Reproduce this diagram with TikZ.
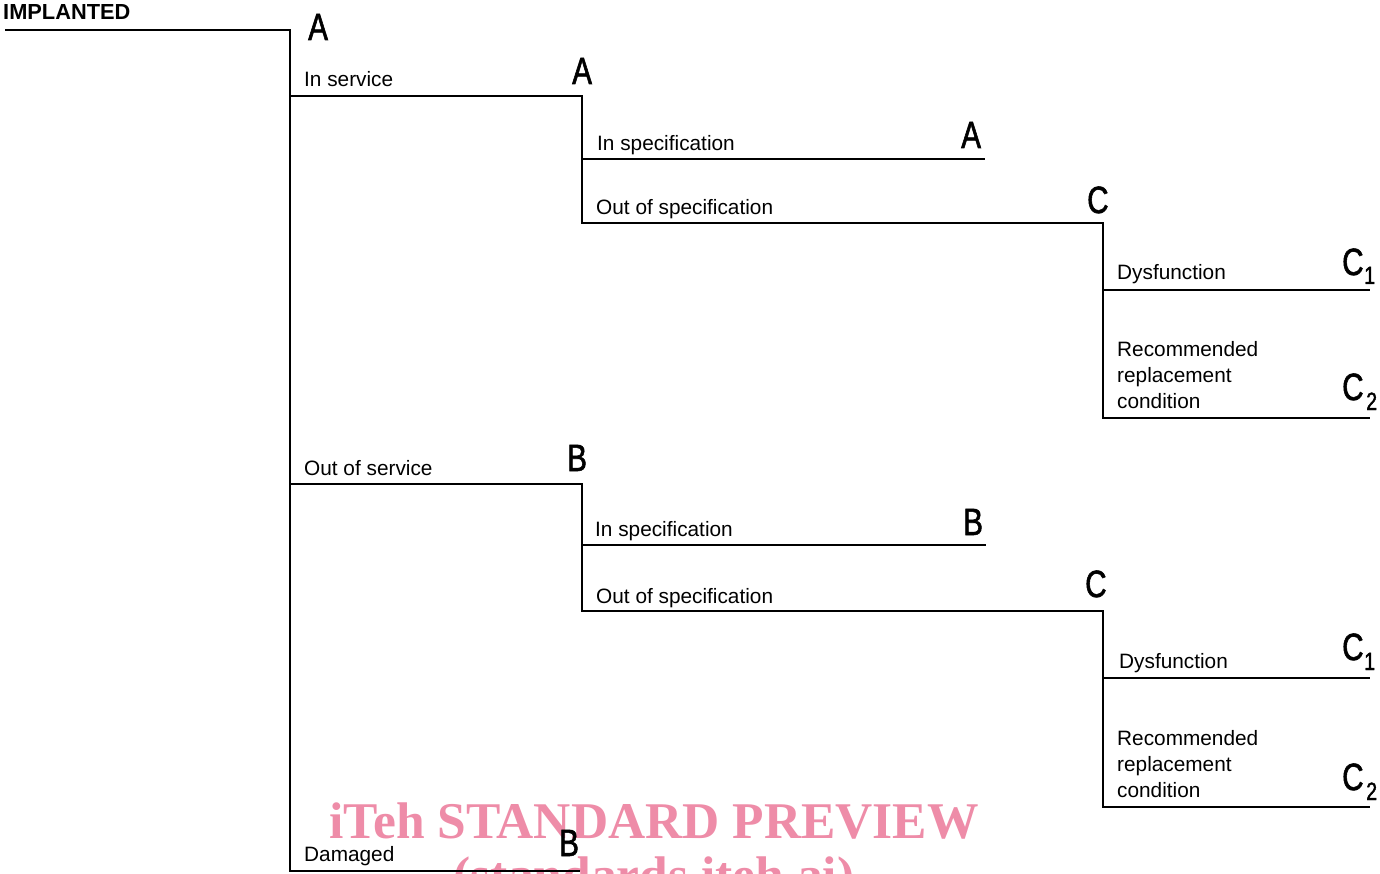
\documentclass[tikz,border=0pt]{standalone}
\usepackage{fontspec}
\setmainfont{Liberation Sans}
\newfontfamily\letterfont[FakeStretch=0.78,FakeBold=1.5]{Liberation Sans}
\newfontfamily\wmfont{Liberation Serif}
\definecolor{wmpink}{RGB}{238,140,168}
\begin{document}
\begin{tikzpicture}[x=1pt,y=-1pt,
  tree/.style={line width=2.8pt},
  lbl/.style={anchor=base west, inner sep=0pt, font=\fontsize{20.8}{26}\selectfont, align=left},
  letr/.style={anchor=base west, inner sep=0pt, font=\letterfont\fontsize{38}{38}\selectfont},
  subs/.style={anchor=base west, inner sep=0pt, font=\letterfont\fontsize{25}{25}\selectfont},
  wm/.style={anchor=base, inner sep=0pt, text=wmpink, font=\wmfont\bfseries\fontsize{51.5}{52}\selectfont}]
\useasboundingbox (0,0) rectangle (1380,874);
% watermark
\node[wm] (wm1) at (654,838) {iTeh STANDARD PREVIEW};
\node[wm] (wm2) at (654,892) {(standards.iteh.ai)};
% coordinates
\coordinate (r) at (5,30);
\coordinate (t) at (290,30);
\coordinate (bot) at (290,871);
\coordinate (dmg) at (580,871);
% upper branch
\coordinate (s1) at (290,96);
\coordinate (s1e) at (582,96);
\coordinate (s1b) at (582,223);
\coordinate (a1s) at (582,159);
\coordinate (a1e) at (985,159);
\coordinate (o1e) at (1103,223);
\coordinate (o1b) at (1103,418);
\coordinate (r1e) at (1370,418);
\coordinate (d1s) at (1103,290);
\coordinate (d1e) at (1370,290);
% lower branch
\coordinate (s2) at (290,484);
\coordinate (s2e) at (582,484);
\coordinate (s2b) at (582,611);
\coordinate (a2s) at (582,545);
\coordinate (a2e) at (986,545);
\coordinate (o2e) at (1103,611);
\coordinate (o2b) at (1103,807);
\coordinate (r2e) at (1370,807);
\coordinate (d2s) at (1103,678);
\coordinate (d2e) at (1370,678);
% tree lines
\draw[tree] (r) -- (t) -- (bot) -- (dmg);
\draw[tree] (s1) -- (s1e) -- (s1b) -- (o1e) -- (o1b) -- (r1e);
\draw[tree] (a1s) -- (a1e);
\draw[tree] (d1s) -- (d1e);
\draw[tree] (s2) -- (s2e) -- (s2b) -- (o2e) -- (o2b) -- (r2e);
\draw[tree] (a2s) -- (a2e);
\draw[tree] (d2s) -- (d2e);
% labels
\node[lbl, font=\bfseries\fontsize{21.8}{26}\selectfont] (impl) at (3,20) {IMPLANTED};
\node[lbl] (insvc) at (304,87) {In service};
\node[lbl] (insp1) at (597,151) {In specification};
\node[lbl] (outsp1) at (596,215) {Out of specification};
\node[lbl] (dys1) at (1117,280) {Dysfunction};
\node[lbl] (rec1) at (1117,408) {Recommended\\replacement\\condition};
\node[lbl] (outsvc) at (304,475) {Out of service};
\node[lbl] (insp2) at (595,536) {In specification};
\node[lbl] (outsp2) at (596,603) {Out of specification};
\node[lbl] (dys2) at (1119,668) {Dysfunction};
\node[lbl] (rec2) at (1117,797) {Recommended\\replacement\\condition};
\node[lbl] (dmgl) at (304,861) {Damaged};
% state letters
\node[letr] (A0) at (308,40) {A};
\node[letr] (A1) at (572,84) {A};
\node[letr] (A2) at (961,148) {A};
\node[letr] (C1) at (1087,213) {C};
\node[letr] (C11) at (1342,275) {C};
\node[subs] (C11s) at (1364,284) {1};
\node[letr] (C12) at (1342,400) {C};
\node[subs] (C12s) at (1366,410) {2};
\node[letr] (B1) at (567,471) {B};
\node[letr] (B2) at (963,535) {B};
\node[letr] (C2) at (1085,597) {C};
\node[letr] (C21) at (1342,660) {C};
\node[subs] (C21s) at (1364,670) {1};
\node[letr] (C22) at (1342,790) {C};
\node[subs] (C22s) at (1366,800) {2};
\node[letr] (B3) at (559,856) {B};
\end{tikzpicture}
\end{document}
